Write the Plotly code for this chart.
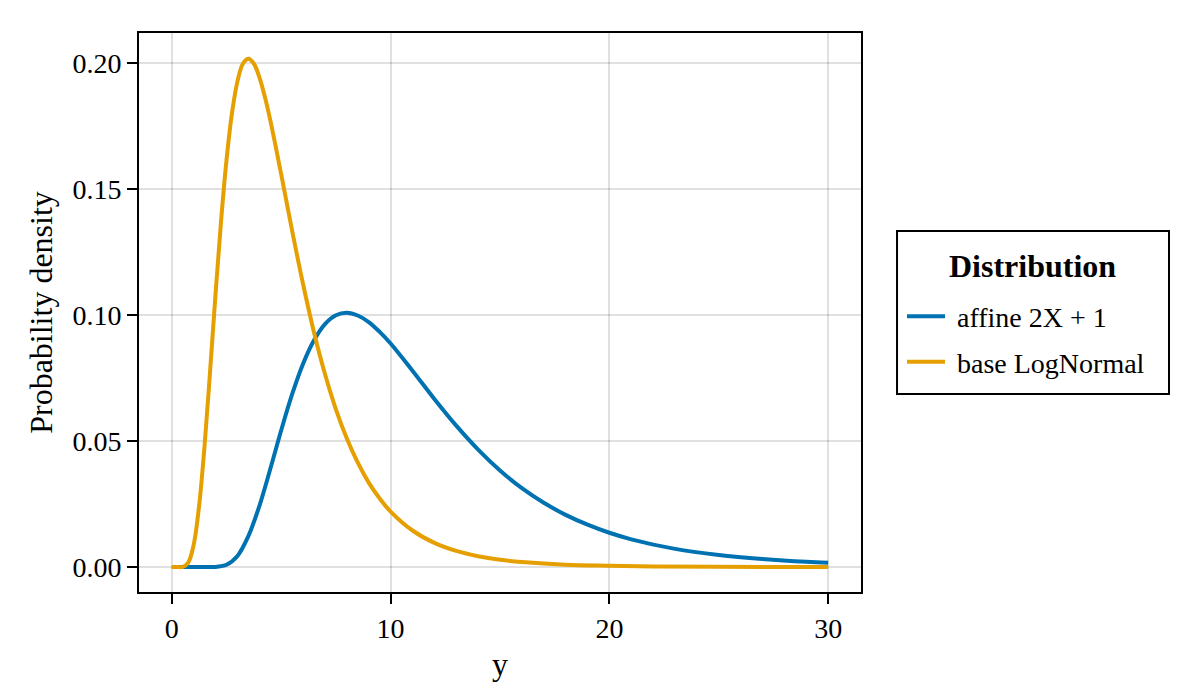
import plotly.graph_objects as go

# values
base_x = [0, 0.25, 0.5, 0.75, 1, 1.25, 1.5, 1.75, 2, 2.25, 2.5, 2.75, 3, 3.25, 3.5,
          3.75, 4, 4.25, 4.5, 5, 5.5, 6, 6.5, 7, 7.5, 8, 8.5, 9, 9.5, 10, 11, 12,
          13, 14, 15, 16, 18, 20, 22, 25, 30]
base_y = [0, 0, 0.0001, 0.0018, 0.0089, 0.0245, 0.0485, 0.0778, 0.1085, 0.1372,
          0.1615, 0.1801, 0.1927, 0.1997, 0.2017, 0.1997, 0.1944, 0.1867, 0.1773,
          0.1558, 0.1334, 0.1122, 0.0931, 0.0766, 0.0626, 0.0510, 0.0414, 0.0335,
          0.0272, 0.0220, 0.0145, 0.0096, 0.0064, 0.0043, 0.0029, 0.0020, 0.0009,
          0.0005, 0.0002, 0.0001, 0.0]

affine_x = [0, 1, 1.5, 2, 2.5, 3, 3.5, 4, 4.5, 5, 5.5, 6, 6.5, 7, 7.5, 8, 8.5, 9,
            9.5, 10, 11, 12, 13, 14, 15, 16, 17, 18, 19, 20, 21, 23, 25, 27, 29, 30]
affine_y = [0, 0, 0, 0.00005, 0.0009, 0.0044, 0.0123, 0.0242, 0.0389, 0.0543,
            0.0686, 0.0807, 0.0900, 0.0964, 0.0999, 0.1009, 0.0998, 0.0972,
            0.0933, 0.0887, 0.0779, 0.0667, 0.0561, 0.0466, 0.0383, 0.0313,
            0.0255, 0.0207, 0.0168, 0.0136, 0.0110, 0.0072, 0.0048, 0.0032,
            0.0021, 0.00175]

x_ticks = [0, 10, 20, 30]
y_ticks = [0.0, 0.05, 0.10, 0.15, 0.20]
y_tick_text = ["0.00", "0.05", "0.10", "0.15", "0.20"]

FONT = "Liberation Serif"
BLUE = "#0072B2"
ORANGE = "#E69F00"

fig = go.Figure()
fig.add_trace(go.Scatter(
    x=affine_x, y=affine_y, mode="lines", name="\u00a0affine 2X + 1",
    line=dict(color=BLUE, width=4, shape="spline", smoothing=1.0),
    legendgroup="a",
))
fig.add_trace(go.Scatter(
    x=base_x, y=base_y, mode="lines", name="\u00a0base LogNormal",
    line=dict(color=ORANGE, width=4, shape="spline", smoothing=1.0),
    legendgroup="b",
))

axis_common = dict(
    showline=True, linecolor="black", linewidth=2, mirror=True,
    ticks="outside", ticklen=10, tickwidth=2, tickcolor="black",
    showgrid=True, gridcolor="rgba(0,0,0,0.12)", gridwidth=2,
    zeroline=False, tickfont=dict(size=28),
)

# legend frame + title drawn by hand so the spacing matches
fig.add_shape(type="rect", xref="paper", yref="paper",
              x0=1.0499, x1=1.4266, y0=0.3542, y1=0.6458,
              line=dict(color="black", width=2), fillcolor="white", layer="below")
fig.add_annotation(text="<b>Distribution</b>", xref="paper", yref="paper",
                   x=1.2382, y=0.5832, showarrow=False,
                   xanchor="center", yanchor="middle",
                   font=dict(family=FONT, size=32, color="black"))

fig.update_layout(
    width=1200, height=700,
    paper_bgcolor="white", plot_bgcolor="white",
    font=dict(family=FONT, size=27, color="black"),
    margin=dict(l=131, r=347, t=25, b=116),
    xaxis=dict(axis_common, range=[-1.5, 31.5], tickvals=x_ticks,
               title=dict(text="y", standoff=10)),
    yaxis=dict(axis_common, range=[-0.0099, 0.2119], tickvals=y_ticks,
               ticktext=y_tick_text,
               title=dict(text="Probability density", standoff=10)),
    legend=dict(
        x=1.0568, xanchor="left", y=0.5375, yanchor="top",
        borderwidth=0, bgcolor="rgba(0,0,0,0)",
        tracegroupgap=6, itemwidth=38, font=dict(size=28),
    ),
)

fig.write_html("out.html")
